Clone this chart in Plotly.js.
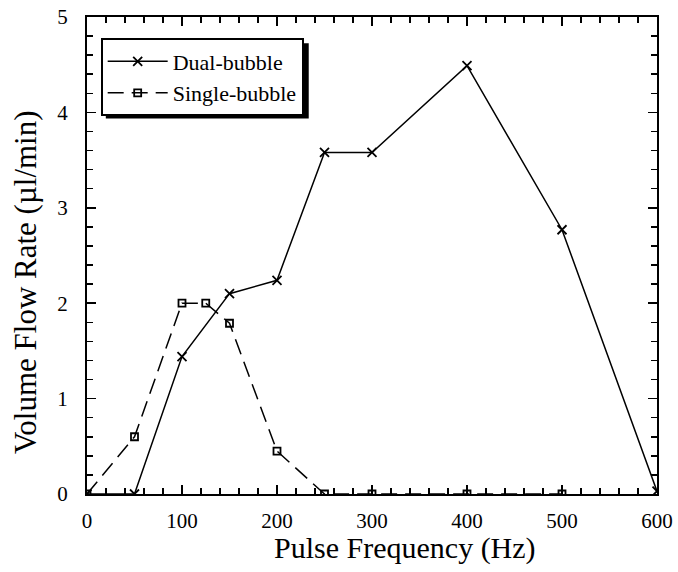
<!DOCTYPE html>
<html>
<head>
<meta charset="utf-8">
<script src="https://cdn.plot.ly/plotly-3.0.1.min.js"></script>
<style>html,body{margin:0;padding:0;background:#fff;}#chart{width:678px;height:572px;}</style>
</head>
<body>
<div id="chart"></div>
<script>
const dualFreq = [0, 50, 100, 150, 200, 250, 300, 400, 500, 600];
const dualFlow = [0, 0, 1.44, 2.1, 2.24, 3.58, 3.58, 4.49, 2.77, 0.03];
const singleFreq = [0, 50, 100, 125, 150, 200, 250, 300, 400, 500];
const singleFlow = [0, 0.6, 2.0, 2.0, 1.79, 0.45, 0, 0, 0, 0];
const seriesNames = ["Dual-bubble", "Single-bubble"];
const xTicks = [0, 100, 200, 300, 400, 500, 600];
const yTicks = [0, 1, 2, 3, 4, 5];
const xTitle = "Pulse Frequency (Hz)";
const yTitle = "Volume Flow Rate (µl/min)";

const font = "'Liberation Serif', 'Times New Roman', serif";

const traces = [
  {
    x: dualFreq, y: dualFlow, name: seriesNames[0], mode: "lines+markers",
    line: {color: "#000", width: 1.5},
    marker: {symbol: "x-thin-open", size: 9, color: "#000", line: {color: "#000", width: 1.8}}
  },
  {
    x: singleFreq, y: singleFlow, name: seriesNames[1], mode: "lines+markers",
    line: {color: "#000", width: 1.5, dash: "16px,8px"},
    marker: {symbol: "square-open", size: 7, color: "#000", line: {color: "#000", width: 1.8}}
  }
];

const axisCommon = {
  showgrid: false, zeroline: false, showline: true, linecolor: "#000", linewidth: 2,
  mirror: "allticks", ticks: "inside", ticklen: 9, tickwidth: 1.5, tickcolor: "#000",
  tickfont: {family: font, size: 21, color: "#000"},
  minor: {ticks: "inside", ticklen: 6, tickwidth: 1.5, tickcolor: "#000"}
};

const layout = {
  width: 678, height: 572,
  margin: {l: 87, r: 21, t: 17, b: 78},
  paper_bgcolor: "#fff", plot_bgcolor: "#fff",
  showlegend: true,
  legend: {
    x: 0.024, y: 0.955, xanchor: "left", yanchor: "top",
    bgcolor: "#fff", bordercolor: "#000", borderwidth: 2,
    font: {family: font, size: 22, color: "#000"},
    tracegroupgap: 0, itemwidth: 60
  },
  xaxis: Object.assign({}, axisCommon, {
    range: [0, 600], tickvals: xTicks, ticktext: xTicks.map(String),
    ticklabelstandoff: 7,
    minor: Object.assign({}, axisCommon.minor, {dtick: 20})
  }),
  yaxis: Object.assign({}, axisCommon, {
    range: [0, 5], tickvals: yTicks, ticktext: yTicks.map(String),
    ticklabelstandoff: 13,
    minor: Object.assign({}, axisCommon.minor, {dtick: 0.2})
  }),
  annotations: [
    {text: xTitle, xref: "paper", yref: "paper", x: 0.558, y: -0.113, xanchor: "center", yanchor: "middle",
     showarrow: false, font: {family: font, size: 30, color: "#000"}},
    {text: yTitle, xref: "paper", yref: "paper", x: -0.109, y: 0.444, xanchor: "center", yanchor: "middle",
     textangle: -90, showarrow: false, font: {family: font, size: 31, color: "#000"}}
  ],
  shapes: [
    {type: "rect", xref: "paper", yref: "paper", x0: 0.033, x1: 0.389, y0: 0.787, y1: 0.945,
     fillcolor: "#000", line: {width: 0}, layer: "above"}
  ]
};

Plotly.newPlot("chart", traces, layout, {staticPlot: true, displayModeBar: false});
</script>
</body>
</html>
